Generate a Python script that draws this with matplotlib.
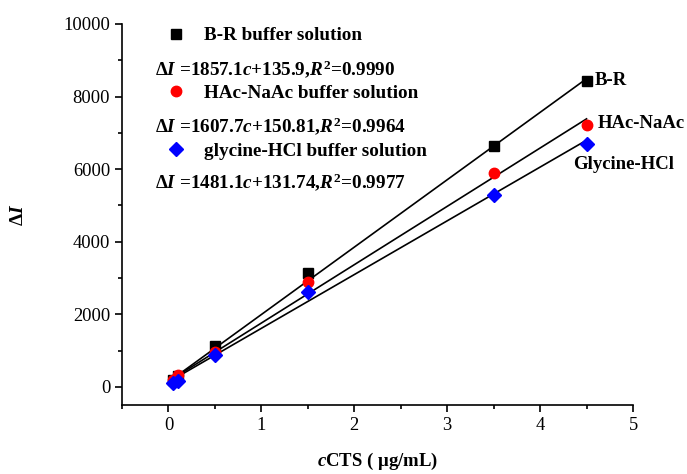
import numpy as np
import matplotlib
matplotlib.use("Agg")
import matplotlib.pyplot as plt
from matplotlib.ticker import MultipleLocator
from matplotlib.lines import Line2D

# concentrations of CTS (ug/mL)
conc = [0.05, 0.1, 0.5, 1.5, 3.5, 4.5]

br_vals = [180, 300, 1120, 3150, 6640, 8430]
hac_vals = [200, 330, 950, 2890, 5890, 7220]
gly_vals = [100, 170, 870, 2600, 5300, 6700]

# fitted lines: slope, intercept
br_fit = (1857.1, 135.9)
hac_fit = (1607.7, 150.81)
gly_fit = (1481.1, 131.74)

legend_labels = ["B-R buffer solution", "HAc-NaAc buffer solution", "glycine-HCl buffer solution"]
equations = [
    r"$\Delta I$ =1857.1$c$+135.9,$R^2$=0.9990",
    r"$\Delta I$ =1607.7$c$+150.81,$R^2$=0.9964",
    r"$\Delta I$ =1481.1$c$+131.74,$R^2$=0.9977",
]
end_labels = ["B-R", "HAc-NaAc", "Glycine-HCl"]

plt.rcParams.update({
    "font.family": "Liberation Serif",
    "font.size": 13,
    "mathtext.fontset": "custom",
    "mathtext.rm": "Liberation Serif:bold",
    "mathtext.it": "Liberation Serif:bold:italic",
    "mathtext.bf": "Liberation Serif:bold",
})

fig = plt.figure(figsize=(6.87, 4.74), dpi=100)
ax = fig.add_axes([0.1776, 0.1456, 0.7438, 0.8038])

series = [
    (br_vals, br_fit, "s", "black", 7),
    (hac_vals, hac_fit, "o", "red", 7.5),
    (gly_vals, gly_fit, "D", "blue", 7),
]

xs = np.linspace(conc[0], conc[-1], 50)
handles = []
for vals, (k, b), mk, col, ms in series:
    ax.plot(xs, k * xs + b, color="black", lw=1.2, zorder=2)
    ax.plot(conc, vals, linestyle="none", marker=mk, color=col, ms=ms, zorder=3)
    handles.append(Line2D([], [], linestyle="none", marker=mk, color=col, ms=ms))

# labels at the end of each series
offsets = [(6, 0), (8, 1), (-10, -15)]
for vals, lab, off in zip([br_vals, hac_vals, gly_vals], end_labels, offsets):
    ax.annotate(lab, (conc[-1], vals[-1]), xytext=off, textcoords="offset points",
                ha="left", va="center", fontweight="bold", fontsize=13.5)

leg = ax.legend(handles, legend_labels, loc="upper left", bbox_to_anchor=(0.086, 0.992),
                frameon=False, borderpad=0, borderaxespad=0, handlelength=1.0,
                handletextpad=1.0, labelspacing=2.1, prop={"weight": "bold", "size": 13.8})

for eq, yy in zip(equations, [0.882, 0.732, 0.585]):
    ax.text(0.065, yy, eq, transform=ax.transAxes, ha="left", va="center",
            fontsize=13.8, fontweight="bold")

ax.set_xlim(-0.5, 5)
ax.set_ylim(-500, 10000)
ax.xaxis.set_major_locator(MultipleLocator(1))
ax.xaxis.set_minor_locator(MultipleLocator(0.5))
ax.yaxis.set_major_locator(MultipleLocator(2000))
ax.yaxis.set_minor_locator(MultipleLocator(1000))
ax.spines["top"].set_visible(False)
ax.spines["right"].set_visible(False)
for s in ["left", "bottom"]:
    ax.spines[s].set_linewidth(1.2)
ax.tick_params(which="major", direction="out", length=5, width=1.2, labelsize=13.3)
ax.tick_params(which="minor", direction="out", length=3, width=1.2)

ax.set_xlabel(r"$c$CTS ( μg/mL)", fontweight="bold", fontsize=13.5, labelpad=12)
ax.set_ylabel(r"$\Delta I$", fontsize=14, labelpad=26)

fig.savefig("out.png", dpi=100)
